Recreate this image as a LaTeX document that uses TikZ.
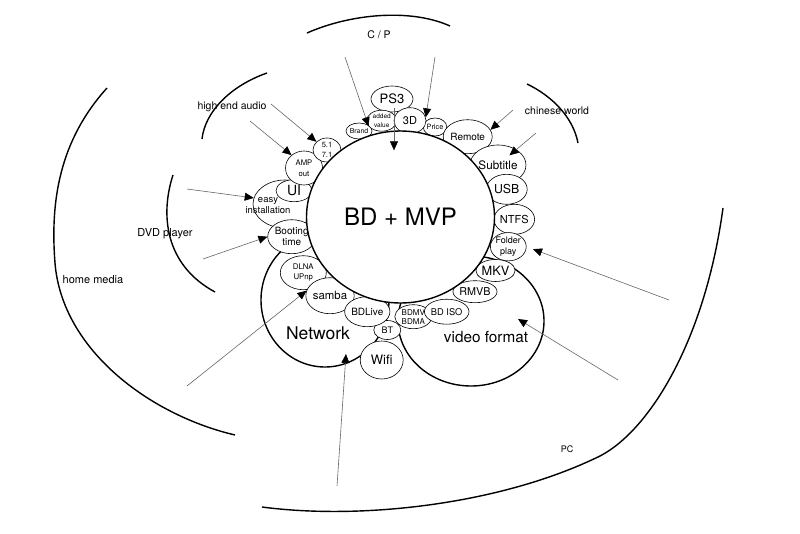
\documentclass[tikz,border=0pt]{standalone}
\usepackage{fontspec}
\setmainfont{TeX Gyre Heros}
\usetikzlibrary{shapes.geometric,arrows.meta}
\newcommand\fsz[2]{\fontsize{#1}{#2}\selectfont}
\begin{document}
\begin{tikzpicture}[x=1pt,y=-1pt,
  bub/.style={draw,ellipse,fill=white,inner sep=0pt,line width=0.6pt,align=center},
  big/.style={draw,ellipse,fill=white,inner sep=0pt,line width=1.4pt},
  ring/.style={line width=1.4pt},
  arr/.style={draw=black!60,line width=0.6pt,-{Triangle[length=9pt,width=8pt,color=black]}},
  lbl/.style={font=\fsz{10.5}{12}}]
\useasboundingbox (0,0) rectangle (800,533);
\draw[ring] (307,33) .. controls (350,14) and (410,8) .. (450,26);
\draw[ring] (267,73) .. controls (230,86) and (205,112) .. (202,139);
\draw[ring] (527,84) .. controls (552,96) and (573,117) .. (578,143);
\draw[ring] (173,175) .. controls (160,215) and (165,265) .. (215,292);
\draw[ring] (107,88) .. controls (60,140) and (50,200) .. (55,263) .. controls (62,350) and (150,415) .. (235,435);
\draw[ring] (262,507) .. controls (360,520) and (500,505) .. (600,456) .. controls (650,430) and (705,340) .. (723,208);
\node[lbl] (cp) at (379,35) {C / P};
\node[lbl] (audio) at (232,107) {high end audio};
\node[lbl] (chinese) at (557,111) {chinese world};
\node[lbl,font=\fsz{11}{12}] (dvd) at (165,234) {DVD player};
\node[lbl,font=\fsz{11}{12}] (home) at (93,280) {home media};
\node[lbl,font=\fsz{9}{10}] (pc) at (567,449) {PC};
\node[big,minimum width=128pt,minimum height=134pt] (network) at (325,300) {};
\node[big,minimum width=146pt,minimum height=130pt] (video) at (471,321) {};
\node[font=\fsz{17.5}{18}] (nettext) at (318,333) {Network};
\node[font=\fsz{15.3}{16}] (videotext) at (486,337) {video format};
\node[bub,minimum width=42pt,minimum height=26pt,font=\fsz{13}{13}] (ps3) at (392,99) {PS3};
\node[bub,minimum width=26pt,minimum height=16pt,font=\fsz{6.9}{7}] (brand) at (359,131) {Brand};
\node[bub,minimum width=30pt,minimum height=21pt,font=\fsz{6.5}{8.3}] (addval) at (381.7,120.7) {added\\value};
\node[bub,minimum width=22pt,minimum height=18pt,font=\fsz{7.3}{8}] (price) at (435,127) {Price};
\node[bub,minimum width=32pt,minimum height=26pt,font=\fsz{11}{11}] (threed) at (410,120.7) {3D};
\node[bub,minimum width=44pt,minimum height=34pt,font=\fsz{10}{10}] (remote) at (467.7,136.7) {Remote};
\node[bub,minimum width=56pt,minimum height=40pt,font=\fsz{11.7}{12}] (subtitle) at (498,165) {Subtitle};
\node[bub,minimum width=40pt,minimum height=30pt,font=\fsz{11}{11}] (ntfs) at (514.3,219.3) {NTFS};
\node[bub,minimum width=41pt,minimum height=30pt,font=\fsz{12.3}{12}] (usb) at (506.7,189.3) {USB};
\node[bub,minimum width=35pt,minimum height=28pt,font=\fsz{9}{11.5}] (folder) at (508.3,246.7) {Folder\\play};
\node[bub,minimum width=34pt,minimum height=22pt,font=\fsz{12.8}{13}] (mkv) at (495.5,270.5) {MKV};
\node[bub,minimum width=37pt,minimum height=22pt,font=\fsz{10.8}{11}] (rmvb) at (475,291.7) {RMVB};
\node[bub,minimum width=37pt,minimum height=24pt,font=\fsz{8}{9}] (bdmv) at (413.3,316.7) {BDMV\\BDMA};
\node[bub,minimum width=38pt,minimum height=25pt,font=\fsz{9.3}{10}] (bdiso) at (446.7,311.7) {BD ISO};
\node[bub,minimum width=43pt,minimum height=38pt,font=\fsz{13}{13}] (wifi) at (381.7,360) {Wifi};
\node[bub,minimum width=27pt,minimum height=19pt,font=\fsz{9}{9}] (bt) at (387.3,330) {BT};
\node[bub,minimum width=46pt,minimum height=34pt,font=\fsz{7.8}{10}] (dlna) at (303.3,272.7) {DLNA\\UPnp};
\node[bub,minimum width=48pt,minimum height=36pt,font=\fsz{11.4}{12}] (samba) at (330,295.7) {samba};
\node[bub,minimum width=45pt,minimum height=30pt,font=\fsz{10}{10}] (bdlive) at (367.3,311.7) {BDLive};
\node[bub,minimum width=64pt,minimum height=48pt] (easy) at (285,204) {};
\node[align=center,font=\fsz{9.5}{11}] (easytext) at (268,206) {easy\\installation};
\node[bub,minimum width=48pt,minimum height=34pt,font=\fsz{10}{11}] (boot) at (291.7,236.7) {Booting\\time};
\node[bub,minimum width=36pt,minimum height=22pt,font=\fsz{14}{14}] (ui) at (294,190.7) {UI};
\node[bub,minimum width=37pt,minimum height=34pt,font=\fsz{7.7}{10.5}] (amp) at (304,168) {AMP\\out};
\node[bub,minimum width=28pt,minimum height=24pt,font=\fsz{7.5}{10}] (surr) at (327,150) {5.1\\7.1};
\node[big,minimum width=188pt,minimum height=172pt,font=\fsz{24}{24}] (main) at (400.5,217) {BD + MVP};
\coordinate (cp1) at (345,57);
\coordinate (cp2) at (435,57);
\coordinate (cw1) at (513,110);
\coordinate (cw2) at (536,133);
\coordinate (ha1) at (250,121);
\coordinate (ha2) at (271,104);
\coordinate (dvd1) at (187,189);
\coordinate (dvd2) at (203,259);
\coordinate (hm) at (187,386);
\coordinate (pc0) at (337,486);
\coordinate (pc1) at (669,300);
\coordinate (pc2) at (618,380);
\draw[arr] (cp1) -- (addval.203);
\draw[arr] (cp2) -- (threed.12);
\draw[arr] ([xshift=2pt,yshift=-9pt]ps3.center) -- ([xshift=-6.5pt,yshift=-20pt]main.north);
\draw[arr] (cw1) -- (remote.17);
\draw[arr,shorten >=15pt] (cw2) -- (subtitle.center);
\draw[arr] (ha1) -- (amp.134);
\draw[arr] (ha2) -- (surr.142);
\draw[arr] (dvd1) -- (easy.169);
\draw[arr] (dvd2) -- (boot.west);
\draw[arr] (hm) -- (samba.168);
\draw[arr] (pc0) -- ([xshift=21pt,yshift=-54pt]network.center);
\draw[arr,shorten >=7pt] (pc1) -- (folder.east);
\draw[arr] (pc2) -- ([xshift=47pt,yshift=2pt]video.center);
\end{tikzpicture}
\end{document}
